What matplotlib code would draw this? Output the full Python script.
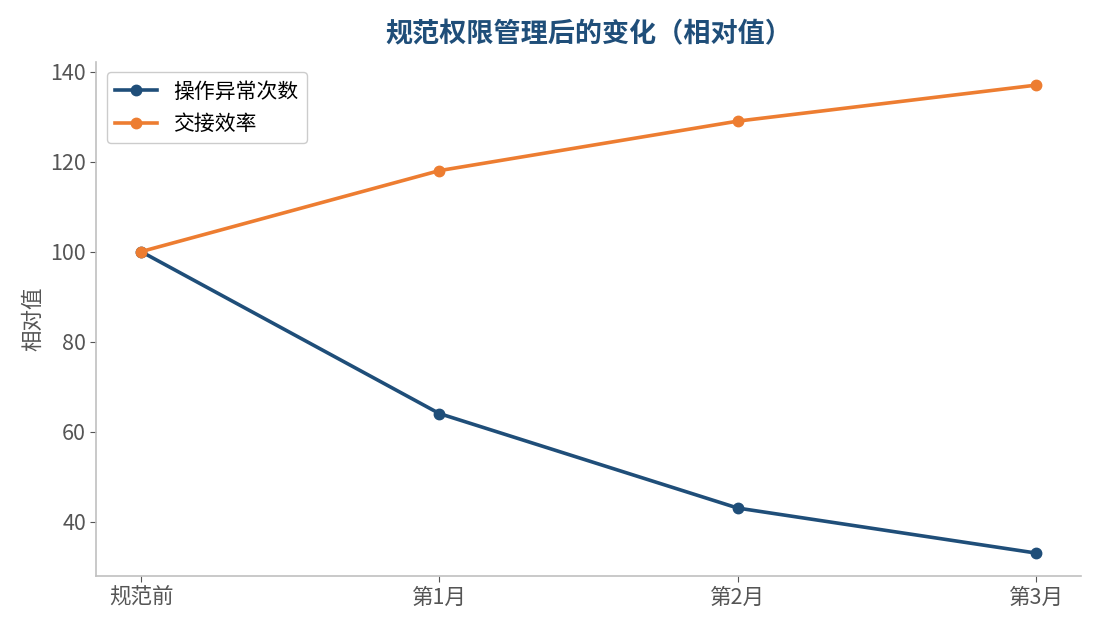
import matplotlib.pyplot as plt

plt.rcParams['font.family'] = ['Noto Sans CJK SC', 'DejaVu Sans']

stages = ["规范前", "第1月", "第2月", "第3月"]
abnormal_ops = [100, 64, 43, 33]
handover_eff = [100, 118, 129, 137]


def draw_figure():
    fig, ax = plt.subplots(figsize=(10.95, 6.3), dpi=100)
    x = range(len(stages))
    ax.plot(x, abnormal_ops, color="#1f4e79", linewidth=2.6, marker="o", markersize=7.5, label="操作异常次数")
    ax.plot(x, handover_eff, color="#ed7d31", linewidth=2.6, marker="o", markersize=7.5, label="交接效率")

    ax.set_xticks(list(x))
    ax.set_xticklabels(stages)
    ax.tick_params(axis="both", labelsize=15.5, colors="#555555", length=4)
    ax.set_ylabel("相对值", fontsize=15.5, color="#555555")
    ax.set_title("规范权限管理后的变化（相对值）", fontsize=19.5, fontweight="bold", color="#1f4e79", pad=14)

    for side in ["top", "right"]:
        ax.spines[side].set_visible(False)
    for side in ["left", "bottom"]:
        ax.spines[side].set_color("#c0c0c0")
        ax.spines[side].set_linewidth(1.2)

    ax.legend(loc="upper left", fontsize=15, framealpha=1, edgecolor="#cccccc")

    fig.subplots_adjust(left=0.088, right=0.987, bottom=0.085, top=0.902)
    plt.savefig("out.png", dpi=100)


if __name__ == "__main__":
    draw_figure()
